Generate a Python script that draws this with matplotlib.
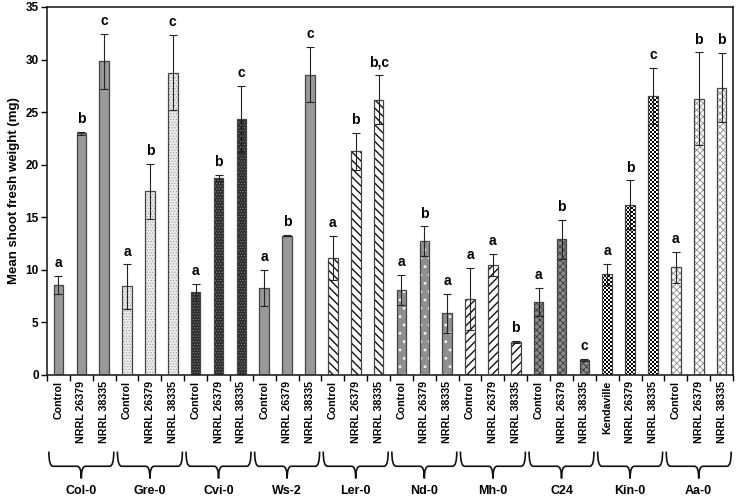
import matplotlib
matplotlib.use("Agg")
import matplotlib.pyplot as plt
import numpy as np
from matplotlib.path import Path
from matplotlib.patches import PathPatch

plt.rcParams['font.family'] = ['Liberation Sans', 'DejaVu Sans']
plt.rcParams['font.weight'] = 'bold'

groups = ["Col-0", "Gre-0", "Cvi-0", "Ws-2", "Ler-0", "Nd-0", "Mh-0", "C24", "Kin-0", "Aa-0"]
treatments = [
    ["Control", "NRRL 26379", "NRRL 38335"],
    ["Control", "NRRL 26379", "NRRL 38335"],
    ["Control", "NRRL 26379", "NRRL 38335"],
    ["Control", "NRRL 26379", "NRRL 38335"],
    ["Control", "NRRL 26379", "NRRL 38335"],
    ["Control", "NRRL 26379", "NRRL 38335"],
    ["Control", "NRRL 26379", "NRRL 38335"],
    ["Control", "NRRL 26379", "NRRL 38335"],
    ["Kendaville", "NRRL 26379", "NRRL 38335"],
    ["Control", "NRRL 26379", "NRRL 38335"],
]
means = [
    [8.55, 23.0, 29.84],
    [8.42, 17.48, 28.76],
    [7.85, 18.75, 24.37],
    [8.29, 13.25, 28.57],
    [11.12, 21.29, 26.2],
    [8.07, 12.71, 5.85],
    [7.24, 10.49, 3.17],
    [6.93, 12.9, 1.46],
    [9.56, 16.2, 26.53],
    [10.23, 26.28, 27.33],
]
errors = [
    [0.85, 0.15, 2.6],
    [2.1, 2.6, 3.6],
    [0.85, 0.3, 3.15],
    [1.7, 0.07, 2.65],
    [2.1, 1.75, 2.3],
    [1.45, 1.43, 1.87],
    [2.96, 1.05, 0.1],
    [1.36, 1.88, 0.1],
    [1.0, 2.3, 2.67],
    [1.5, 4.4, 3.27],
]
letters = [
    ["a", "b", "c"],
    ["a", "b", "c"],
    ["a", "b", "c"],
    ["a", "b", "c"],
    ["a", "b", "b,c"],
    ["a", "b", "a"],
    ["a", "a", "b"],
    ["a", "b", "c"],
    ["a", "b", "c"],
    ["a", "b", "b"],
]

# fill styles per group: (facecolor, hatch, hatchcolor, hatch linewidth)
styles = [
    ("#999999", None, None, 0.5),
    ("#ececec", "......", "#9a9a9a", 0.5),
    ("#2b2b2b", "......", "#8a8a8a", 0.5),
    ("#999999", None, None, 0.5),
    ("#ffffff", "\\\\\\\\", "#111111", 1.0),
    ("#8f8f8f", "..", "#f4f4f4", 0.8),
    ("#ffffff", "////", "#111111", 1.0),
    ("#8a8a8a", "xxxxx", "#3a3a3a", 0.6),
    ("checker", None, None, 0.5),
    ("#ffffff", "xxxxx", "#8c8c8c", 0.6),
]

fig = plt.figure(figsize=(7.37, 4.98), dpi=100)
ax = fig.add_axes([0.0638, 0.247, 0.9308, 0.739])

width = 0.42
cell_x = 0.087
cell_y = 0.19
pos = 0
centers = []
labels = []
for gi, g in enumerate(groups):
    fc, hatch, hc, hlw = styles[gi]
    for ti in range(3):
        m = means[gi][ti]
        e = errors[gi][ti]
        if fc == "checker":
            bars = ax.bar(pos, m, width=width, color='white', linewidth=0, zorder=2)
            nx = int(np.ceil(width / cell_x))
            ny = int(np.ceil(m / cell_y))
            board = (np.add.outer(np.arange(ny), np.arange(nx)) % 2).astype(float)
            x0 = pos - width / 2
            im = ax.imshow(board, cmap='gray', vmin=0, vmax=1, interpolation='nearest',
                           extent=[x0, x0 + nx * cell_x, 0, ny * cell_y], origin='lower',
                           aspect='auto', zorder=2.5)
            im.set_clip_path(bars[0])
        else:
            with plt.rc_context({'hatch.linewidth': hlw}):
                if hatch:
                    ax.bar(pos, m, width=width, color=fc, hatch=hatch, edgecolor=hc, linewidth=0, zorder=2)
                else:
                    ax.bar(pos, m, width=width, color=fc, linewidth=0, zorder=2)
        ax.bar(pos, m, width=width, facecolor='none', edgecolor='#444444', linewidth=0.9, zorder=3)
        ax.errorbar(pos, m, yerr=e, fmt='none', ecolor='#222222', elinewidth=0.8, capsize=3, capthick=0.8, zorder=4)
        ax.text(pos, m + e + 0.55, letters[gi][ti], ha='center', va='bottom', fontsize=10, fontweight='bold')
        centers.append(pos)
        labels.append(treatments[gi][ti])
        pos += 1

n = pos
ax.set_xlim(-0.5, n - 0.5)
ax.set_ylim(0, 35)
ax.set_yticks(np.arange(0, 36, 5))
ax.tick_params(axis='y', direction='out', length=4, width=1, labelsize=8.5, pad=2)
ax.set_xticks(centers)
ax.set_xticklabels(labels, rotation=90, fontsize=7.7, fontweight='bold')
ax.tick_params(axis='x', which='major', length=0, pad=4)
ax.set_xticks(np.arange(-0.5, n, 1), minor=True)
ax.tick_params(axis='x', which='minor', direction='out', length=4, width=1)
for s in ax.spines.values():
    s.set_linewidth(1.1)
    s.set_color('#111111')
ax.set_ylabel("Mean shoot fresh weight (mg)", fontsize=9.5, fontweight='bold', labelpad=4)

# braces under groups
trans = ax.get_xaxis_transform()
ytop, yline, ytip = -0.208, -0.248, -0.281
for gi, g in enumerate(groups):
    x0 = gi * 3 - 0.5 + 0.08
    x1 = gi * 3 + 2.5 - 0.08
    xm = gi * 3 + 1
    r = 0.18
    verts = [
        (x0, ytop), (x0, yline), (x0 + r, yline),
        (xm - r, yline), (xm, yline), (xm, ytip),
        (xm, yline), (xm + r, yline),
        (x1 - r, yline), (x1, yline), (x1, ytop),
    ]
    codes = [Path.MOVETO, Path.CURVE3, Path.CURVE3,
             Path.LINETO, Path.CURVE3, Path.CURVE3,
             Path.CURVE3, Path.CURVE3,
             Path.LINETO, Path.CURVE3, Path.CURVE3]
    p = PathPatch(Path(verts, codes), facecolor='none', edgecolor='#111111', lw=1.2,
                  transform=trans, clip_on=False)
    ax.add_patch(p)
    ax.text(xm, -0.315, g, transform=trans, ha='center', va='center', fontsize=9, fontweight='bold')

fig.savefig("out.png", dpi=100)
